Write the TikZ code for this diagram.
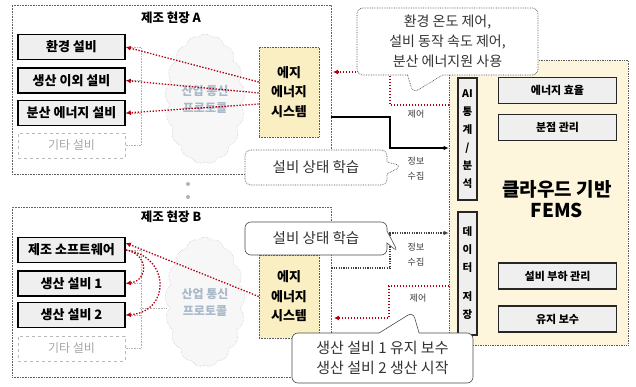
\documentclass[tikz,border=0pt]{standalone}
\usepackage{fontspec}
\setmainfont{Noto Sans CJK KR}
\usetikzlibrary{arrows.meta,shapes.symbols,shapes.callouts}
\definecolor{edgey}{HTML}{FAEFC2}
\definecolor{femsy}{HTML}{FDF6DC}
\definecolor{boxg}{HTML}{EFEFEF}
\definecolor{ctrlred}{HTML}{B00010}
\definecolor{cloudtxt}{HTML}{A9B9C9}
\definecolor{txtd}{HTML}{333333}
\newcommand{\fsz}[2]{\fontsize{#1}{#2}\selectfont}
\tikzset{
 sitebox/.style={draw=gray!75!black, line width=0.6pt, densely dotted, minimum width=319pt, inner sep=0pt},
 devbox/.style={draw=black, line width=1.6pt, fill=boxg, minimum width=107pt, minimum height=25pt, inner sep=0pt, font=\fsz{13}{15}\bfseries},
 otherbox/.style={draw=gray!55, dashed, line width=0.7pt, minimum width=107pt, minimum height=25pt, inner sep=0pt, text=gray!70, font=\fsz{12}{14}},
 cloudnode/.style={cloud, cloud puffs=17, cloud puff arc=100, aspect=0.62, draw=gray!60, densely dotted, fill=gray!6, minimum width=80pt, minimum height=130pt, inner sep=0pt, text=cloudtxt, align=center, font=\fsz{12}{17}\bfseries},
 edgebox/.style={draw=gray!70!black, densely dotted, line width=0.6pt, fill=edgey, minimum width=60pt, inner sep=0pt, align=center, font=\fsz{13}{19.5}\bfseries},
 femsbox/.style={draw=gray!70!black, densely dotted, line width=0.7pt, fill=femsy, minimum width=179pt, minimum height=285pt, inner sep=0pt},
 vbox/.style={draw=black!85, line width=1.5pt, fill=boxg, minimum width=19pt, inner sep=0pt, align=center, font=\fsz{10.5}{18}\bfseries},
 fembox/.style={draw=black!85, line width=1.5pt, fill=boxg, minimum width=118pt, minimum height=26pt, inner sep=0pt, font=\fsz{11}{13}\bfseries},
 ctrl/.style={draw=ctrlred, line width=1.3pt, dash pattern=on 1.4pt off 1.6pt, -{Latex[length=5pt,width=5pt]}},
 infoa/.style={draw=black, line width=1.2pt, -{Latex[length=5pt,width=4.5pt]}},
 infob/.style={draw=black!75, line width=1.1pt, dash pattern=on 1.2pt off 1.2pt, -{Latex[length=5pt,width=4.5pt]}},
 brk/.style={draw=gray!60, line width=0.6pt, densely dotted},
 calld/.style={rectangle callout, rounded corners=6pt, fill=white, draw=gray!60!black, densely dotted, line width=0.7pt, text=txtd, align=center, inner sep=0pt},
 calls/.style={rectangle callout, rounded corners=6pt, fill=white, draw=gray!60!black, line width=0.6pt, text=txtd, align=center, inner sep=0pt},
 tinylabel/.style={text=gray!45!black, font=\fsz{9}{15}, align=center},
 sitetitle/.style={text=black, font=\fsz{12.5}{14}\bfseries},
}
\begin{document}
\begin{tikzpicture}[x=1pt,y=-1pt]
\useasboundingbox (0,0) rectangle (636,387);
\fill[white] (0,0) rectangle (636,387);

% sites
\node[sitebox, minimum height=169pt] (siteA) at (171.5,89.5) {};
\node[sitebox, minimum height=170pt] (siteB) at (171.5,292) {};
\node[sitetitle] (tA) at (171,18) {제조 현장 A};
\node[sitetitle] (tB) at (171,217) {제조 현장 B};
\fill[gray!60] (188,184) circle (2pt);
\fill[gray!60] (188,197) circle (2pt);

% clouds
\node[cloudnode] (cloudA) at (205,99) {산업 통신\\프로토콜};
\node[cloudnode] (cloudB) at (205,302) {산업 통신\\프로토콜};

% devices
\node[devbox] (a1) at (71.5,47) {환경 설비};
\node[devbox] (a2) at (71.5,80.5) {생산 이외 설비};
\node[devbox] (a3) at (71.5,113) {분산 에너지 설비};
\node[otherbox] (a4) at (71.5,145.5) {기타 설비};
\node[devbox] (b1) at (71.5,250) {제조 소프트웨어};
\node[devbox] (b2) at (71.5,283.5) {생산 설비 1};
\node[devbox] (b3) at (71.5,315) {생산 설비 2};
\node[otherbox] (b4) at (71.5,348.5) {기타 설비};

\draw[brk] (a1.east) -- ++(15,0) |- (a4.east);
\draw[brk] (a2.east) -- ++(15,0);
\draw[brk] (a3.east) -- ++(15,0);
\draw[brk] (b1.east) -- ++(15,0) |- (b4.east);
\draw[brk] (b2.east) -- ++(15,0);
\draw[brk] (b3.east) -- ++(15,0);
\draw[brk] (140,308) -- (cloudB.west |- 0,308);

% edge systems
\node[edgebox, minimum height=90pt] (edA) at (289,92) {에지\\에너지\\시스템};
\node[edgebox, minimum height=83pt] (edB) at (289,296.5) {에지\\에너지\\시스템};

% FEMS
\node[femsbox] (fems) at (538.5,202.5) {};
\node[vbox, minimum height=122pt] (ai) at (467.5,139) {AI\\통\\계\\/\\분\\석};
\node[vbox, minimum height=123pt] (ds) at (467.5,273.5) {데\\이\\터\\[11pt]저\\장};
\node[fembox] (f1) at (557.5,90.5) {에너지 효율};
\node[fembox] (f2) at (557.5,127.5) {분점 관리};
\node[fembox] (f3) at (557.5,276) {설비 부하 관리};
\node[fembox] (f4) at (557.5,319) {유지 보수};
\node[font=\fsz{19}{21}\bfseries, align=center] (ftitle) at (557,199) {클라우드 기반\\FEMS};

% red control arrows in sites
\draw[ctrl] ([yshift=10pt]edA.west) -- (a1.east);
\draw[ctrl] ([yshift=-1pt]edA.west) -- (a2.east);
\draw[ctrl] ([yshift=-12pt]edA.west) -- (a3.east);
\draw[ctrl] (edB.west) -- ([yshift=7pt]b1.east);
\draw[ctrl] (b1.east) .. controls +(23,4) and +(23,-3) .. (b2.east);
\draw[ctrl] (b1.east) .. controls +(45,6) and +(45,-3) .. (b3.east);

% control from FEMS
\coordinate (cAs) at (449,105);
\coordinate (cAe) at (333,72);
\draw[ctrl] (cAs) -- (390,105) -- (390,72) -- (cAe);
\coordinate (cBs) at (449,286);
\coordinate (cBe) at (334,318);
\draw[ctrl] (cBs) -- (389,286) -- (389,318) -- (cBe);

% info collection
\draw[infoa] (siteA.east |- 0,117) -- (390,117) -- (390,148) -- (fems.west |- 0,148);
\draw[infob] (siteB.east |- 0,268) -- (390,268) -- (390,233) -- (fems.west |- 0,233);

% callouts
\node[calld, minimum width=181pt, minimum height=67pt, callout absolute pointer={(413,93)}, callout pointer width=35pt, font=\fsz{14}{20}] (co1) at (447.5,41.5) {환경 온도 제어,\\설비 동작 속도 제어,\\분산 에너지원 사용};
\node[calld, minimum width=142pt, minimum height=35pt, callout absolute pointer={(402,166)}, callout pointer width=12pt, font=\fsz{14.5}{17}] (co2) at (316,167.5) {설비 상태 학습};
\node[calls, minimum width=142pt, minimum height=33pt, callout absolute pointer={(398,252)}, callout pointer width=12pt, font=\fsz{14.5}{17}] (co3) at (316,238.5) {설비 상태 학습};
\node[calls, minimum width=181pt, minimum height=50pt, callout absolute pointer={(413,312)}, callout pointer width=40pt, font=\fsz{15}{20}] (co4) at (382.5,358) {생산 설비 1 유지 보수\\생산 설비 2 생산 시작};

% labels
\node[tinylabel] (lA1) at (416,114) {제어};
\node[tinylabel] (lA2) at (416,169) {정보\\수집};
\node[tinylabel] (lB1) at (416,255) {정보\\수집};
\node[tinylabel] (lB2) at (418,298) {제어};
\end{tikzpicture}
\end{document}
